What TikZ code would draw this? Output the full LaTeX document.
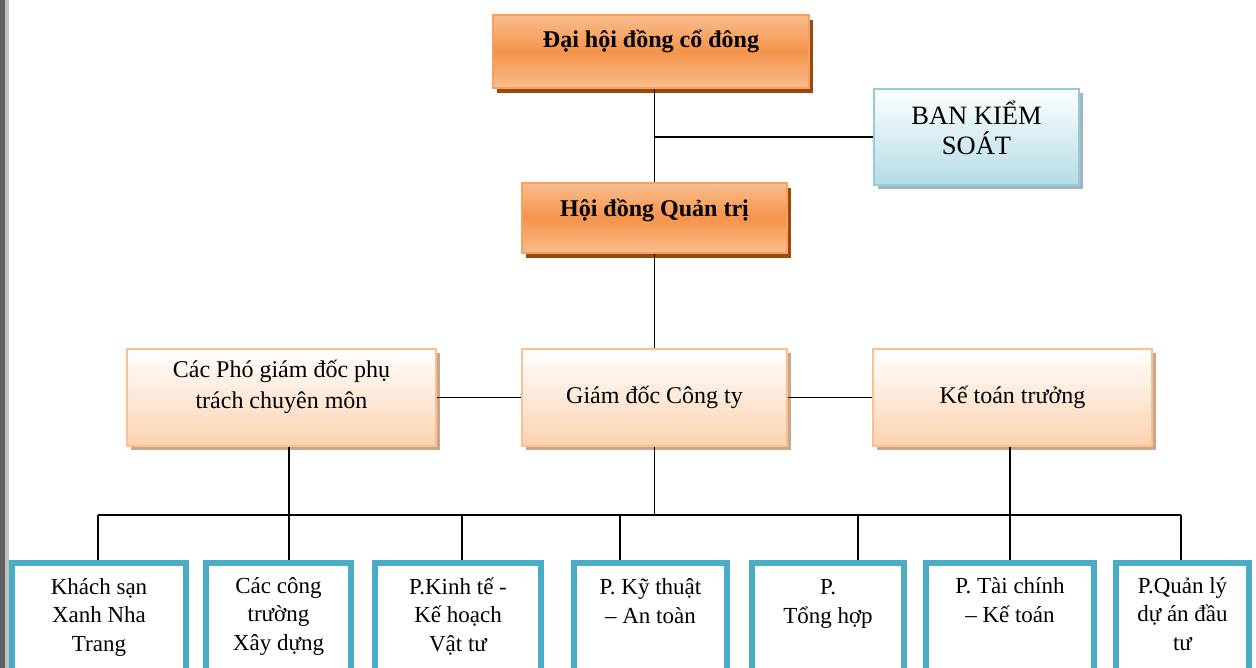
\documentclass[tikz,border=0pt]{standalone}
\usepackage{fontspec}
\setmainfont{Liberation Serif}
\usepackage{xcolor}
\definecolor{Orgtop}{HTML}{F9BE8E}
\definecolor{Orgmid}{HTML}{F5934A}
\definecolor{Orgline}{HTML}{F6A25E}
\definecolor{Orgshadow}{HTML}{9A4A0C}
\definecolor{Peach}{HTML}{FBD2B0}
\definecolor{Peachline}{HTML}{FAC090}
\definecolor{Peachshadow}{HTML}{C9A68C}
\definecolor{Icebot}{HTML}{B4DBE6}
\definecolor{Iceline}{HTML}{92CDDC}
\definecolor{Iceshadow}{HTML}{A3B4BA}
\definecolor{Deptblue}{HTML}{4BACC6}
\definecolor{Edgedark}{HTML}{5F5F5F}
\definecolor{Edgelight}{HTML}{C0C0C0}
\usetikzlibrary{shadows}
\tikzstyle{link} = [
    line width=1.6pt,
    black
]
\tikzstyle{boardbox} = [
    rectangle, draw=Orgline, line width=1.5pt,
    top color=Orgtop, bottom color=Orgtop, middle color=Orgmid,
    drop shadow={shadow xshift=4pt, shadow yshift=-5pt, fill=Orgshadow, opacity=1}
]
\tikzstyle{manbox} = [
    rectangle, draw=Peachline, line width=1.5pt,
    top color=white, bottom color=Peach,
    drop shadow={shadow xshift=4pt, shadow yshift=-4pt, fill=Peachshadow, opacity=1}
]
\tikzstyle{icebox} = [
    rectangle, draw=Iceline, line width=1.5pt,
    top color=white, bottom color=Icebot,
    drop shadow={shadow xshift=4pt, shadow yshift=-4pt, fill=Iceshadow, opacity=1}
]
\tikzstyle{deptbox} = [
    rectangle, draw=Deptblue, line width=6pt, fill=white,
    minimum height=130pt
]
\tikzstyle{boldtext} = [font=\fontsize{24}{30}\selectfont\bfseries, anchor=base, inner sep=0pt]
\tikzstyle{mantext} = [font=\fontsize{24}{31}\selectfont, align=center, anchor=base, inner sep=0pt]
\tikzstyle{bkstext} = [font=\fontsize{26.5}{30}\selectfont, align=center, anchor=base, inner sep=0pt]
\tikzstyle{depttext} = [font=\fontsize{23}{28.5}\selectfont, align=center, anchor=base, inner sep=0pt]

\begin{document}
\begin{tikzpicture}[x=1pt, y=-1pt]
    \useasboundingbox (0,0) rectangle (1256,668);
    % Page edge
    \fill[Edgedark] (0,0) rectangle (5,668);
    \fill[Edgelight] (5,0) rectangle (9,668);
    % Shareholders and board
    \node[boardbox, minimum width=316pt, minimum height=73pt] (dhcd) at (651,51.5) {};
    \node[boldtext] (t-dhcd) at (651,48) {Đại hội đồng cổ đông};
    \node[boardbox, minimum width=265pt, minimum height=70pt] (hdqt) at (654.5,218) {};
    \node[boldtext] (t-hdqt) at (654.5,216.5) {Hội đồng Quản trị};
    % Supervisory board
    \node[icebox, minimum width=205pt, minimum height=96pt] (bks) at (976.5,137) {};
    \node[bkstext] (t-bks) at (976.5,155) {BAN KIỂM\\SOÁT};
    % Management
    \node[manbox, minimum width=309pt, minimum height=97pt] (pgd) at (281.5,397.5) {};
    \node[mantext] (t-pgd) at (281.5,408) {Các Phó giám đốc phụ\\trách chuyên môn};
    \node[manbox, minimum width=265pt, minimum height=97pt] (gd) at (654.5,397.5) {};
    \node[mantext] (t-gd) at (654.5,403) {Giám đốc Công ty};
    \node[manbox, minimum width=279pt, minimum height=97pt] (ktt) at (1012.5,397.5) {};
    \node[mantext] (t-ktt) at (1012.5,403) {Kế toán trưởng};
    % Departments
    \node[deptbox, minimum width=174pt] (d1) at (99,628) {};
    \node[depttext] (t1) at (99,651) {Khách sạn\\Xanh Nha\\Trang};
    \node[deptbox, minimum width=145pt] (d2) at (278.5,628) {};
    \node[depttext] (t2) at (278.5,650) {Các công\\trường\\Xây dựng};
    \node[deptbox, minimum width=166pt] (d3) at (458,628) {};
    \node[depttext] (t3) at (458,651) {P.Kinh tế -\\Kế hoạch\\Vật tư};
    \node[deptbox, minimum width=153pt] (d4) at (650.5,628) {};
    \node[depttext] (t4) at (650.5,623) {P. Kỹ thuật\\– An toàn};
    \node[deptbox, minimum width=152pt] (d5) at (828,628) {};
    \node[depttext] (t5) at (828,623) {P.\\Tổng hợp};
    \node[deptbox, minimum width=168pt] (d6) at (1010,628) {};
    \node[depttext] (t6) at (1010,622) {P. Tài chính\\– Kế toán};
    \node[deptbox, minimum width=133pt] (d7) at (1182.5,628) {};
    \node[depttext] (t7) at (1182.5,650) {P.Quản lý\\dự án đầu\\tư};
    % Links
    \draw[link] (hdqt.north |- dhcd.south) -- (hdqt.north);
    \draw[link] (bks.west) -- (bks.west -| hdqt.north);
    \draw[link] (hdqt.south) -- (gd.north);
    \draw[link] (pgd.east) -- (gd.west);
    \draw[link] (gd.east) -- (ktt.west);
    \coordinate (bus) at (654.5,515);
    \draw[link] (gd.south) -- (bus);
    \draw[link] ([xshift=-1pt]d1.north |- bus) -- ([xshift=-1.5pt]d7.north |- bus);
    \draw[link] ([xshift=-1pt]d1.north) -- ([xshift=-1pt]d1.north |- bus);
    \draw[link] ([xshift=7.5pt]pgd.south) -- ([xshift=7.5pt]pgd.south |- d2.north);
    \draw[link] ([xshift=4pt]d3.north) -- ([xshift=4pt]d3.north |- bus);
    \draw[link] ([xshift=-30.5pt]d4.north) -- ([xshift=-30.5pt]d4.north |- bus);
    \draw[link] ([xshift=30pt]d5.north) -- ([xshift=30pt]d5.north |- bus);
    \draw[link] ([xshift=-2.5pt]ktt.south) -- ([xshift=-2.5pt]ktt.south |- d6.north);
    \draw[link] ([xshift=-1.5pt]d7.north) -- ([xshift=-1.5pt]d7.north |- bus);
\end{tikzpicture}
\end{document}
